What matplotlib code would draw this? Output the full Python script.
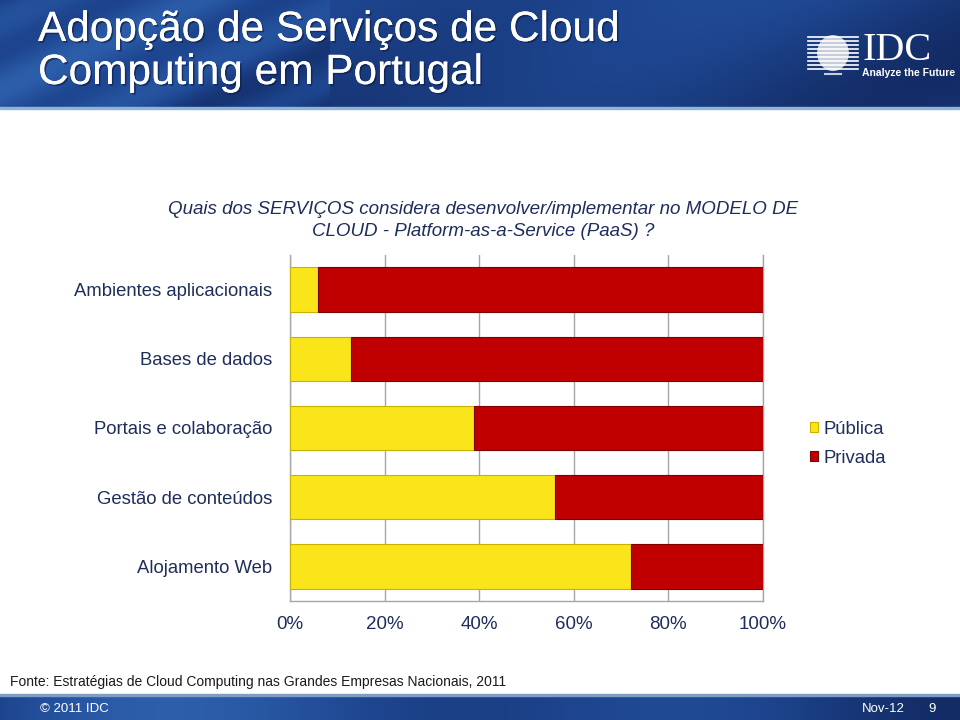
import numpy as np
import matplotlib
matplotlib.use("Agg")
import matplotlib.pyplot as plt
from matplotlib.patches import Rectangle, Circle
from matplotlib.colors import LinearSegmentedColormap
import matplotlib.patheffects as pe

plt.rcParams['font.family'] = ['Liberation Sans', 'DejaVu Sans']

# ---- data ----
categories = ["Ambientes aplicacionais", "Bases de dados", "Portais e colaboração",
              "Gestão de conteúdos", "Alojamento Web"]
publica = [6, 13, 39, 56, 72]
privada = [94, 87, 61, 44, 28]
series_names = ["Pública", "Privada"]
xticks = [0, 20, 40, 60, 80, 100]
xtick_labels = ["0%", "20%", "40%", "60%", "80%", "100%"]

title_lines = ["Adopção de Serviços de Cloud", "Computing em Portugal"]
question_lines = ["Quais dos SERVIÇOS considera desenvolver/implementar no MODELO DE",
                  "CLOUD - Platform-as-a-Service (PaaS) ?"]
source = "Fonte: Estratégias de Cloud Computing nas Grandes Empresas Nacionais, 2011"

NAVY = '#1F2D5C'
YELLOW = '#F9E51A'
YELLOW_EDGE = '#C9B200'
RED = '#C00000'
RED_EDGE = '#7E0000'

fig = plt.figure(figsize=(9.6, 7.2), dpi=100)
fig.patch.set_facecolor('white')

W, H = 960, 720

def fx(px):
    return px / W

def fy(py):
    return 1 - py / H

# ---- header band ----
hdr = fig.add_axes([0, fy(107), 1, 107 / H])
hdr.set_axis_off()
yy, xx = np.mgrid[0:107, 0:960]
base = 0.45 + 0.22 * np.sin(xx / 140.0 + yy / 60.0) * np.cos(xx / 330.0)
streak = 0.12 * np.sin((xx + 2.2 * yy) / 25.0) * (xx < 330)
grad = np.clip(base + streak, 0, 1)
cmap_hdr = LinearSegmentedColormap.from_list('hdr', ['#132C66', '#1E4690', '#2D5EAA'])
hdr.imshow(grad, cmap=cmap_hdr, aspect='auto', extent=[0, 1, 0, 1], origin='upper')
hdr.set_xlim(0, 1)
hdr.set_ylim(0, 1)
fig.add_artist(Rectangle((0, fy(109)), 1, 2 / H, transform=fig.transFigure,
                         color='#8FB4DC', zorder=3))

# title
for i, line in enumerate(title_lines):
    fig.text(fx(38), fy(30 + 43 * i), line, color='white', fontsize=30.5,
             va='center', ha='left',
             path_effects=[pe.withSimplePatchShadow(offset=(1.2, -1.2),
                                                    shadow_rgbFace='#0A1A40', alpha=0.6),
                           pe.Normal()])

# IDC logo
logo = fig.add_axes([fx(806), fy(80), fx(54), 50 / H])
logo.set_axis_off()
logo.set_xlim(-1.6, 1.6)
logo.set_ylim(-1.3, 1.3)
logo.add_patch(Circle((0, 0.1), 0.9, color='#C8CDD8', zorder=1))
for k in np.linspace(-0.75, 0.95, 9):
    logo.plot([-1.5, 1.5], [k, k], color='white', lw=1.2, zorder=2)
logo.plot([-0.5, 0.5], [-1.0, -1.0], color='#C8CDD8', lw=1.5)
fig.text(fx(862), fy(50), "IDC", family=['Liberation Serif', 'DejaVu Serif'],
         color='white', fontsize=29, va='center', ha='left')
fig.text(fx(862), fy(73), "Analyze the Future", color='white', fontsize=7.5,
         fontweight='bold', va='center', ha='left')

# ---- question ----
for i, line in enumerate(question_lines):
    fig.text(fx(483), fy(209 + 22 * i), line, color=NAVY, fontsize=13.5, style='italic',
             ha='center', va='center')

# ---- chart ----
ax = fig.add_axes([fx(290), fy(601), fx(763 - 290), (601 - 255) / H])
y = np.arange(len(categories))
ax.barh(y, publica, height=0.64, color=YELLOW, edgecolor=YELLOW_EDGE, linewidth=0.8,
        label=series_names[0], zorder=3)
ax.barh(y, privada, left=publica, height=0.64, color=RED, edgecolor=RED_EDGE,
        linewidth=0.8, label=series_names[1], zorder=3)
ax.set_xlim(0, 100)
ax.set_ylim(len(categories) - 0.5, -0.5)
ax.set_xticks(xticks)
ax.set_xticklabels(xtick_labels, fontsize=13.5, color=NAVY)
ax.set_yticks(y)
ax.set_yticklabels(categories, fontsize=13.3, color=NAVY)
ax.tick_params(axis='y', length=0, pad=13)
ax.tick_params(axis='x', length=0, pad=11)
ax.grid(axis='x', color='#A6A6A6', linewidth=1.0, zorder=0)
ax.spines['top'].set_visible(False)
for s in ['left', 'right', 'bottom']:
    ax.spines[s].set_color('#A6A6A6')
    ax.spines[s].set_linewidth(1.0)
ax.set_facecolor('white')

leg = fig.legend(handles=[ax.patches[0], ax.patches[len(categories)]],
                 labels=series_names, loc='upper left',
                 bbox_to_anchor=(fx(810), fy(421)), frameon=False, fontsize=13.3,
                 handlelength=0.45, handleheight=0.45, handletextpad=0.3,
                 labelspacing=0.65, borderpad=0, borderaxespad=0)
for t in leg.get_texts():
    t.set_color(NAVY)

# ---- source ----
fig.text(fx(10), fy(682), source, color='#1A1A1A', fontsize=10.0, ha='left', va='center')

# ---- footer bar ----
ftr = fig.add_axes([0, 0, 1, 24 / H])
ftr.set_axis_off()
yy2, xx2 = np.mgrid[0:24, 0:960]
g2 = np.clip(0.5 + 0.3 * np.sin(xx2 / 120.0) * np.cos(xx2 / 370.0), 0, 1)
ftr.imshow(g2, cmap=cmap_hdr, aspect='auto', extent=[0, 1, 0, 1], origin='upper')
ftr.set_xlim(0, 1)
ftr.set_ylim(0, 1)
fig.add_artist(Rectangle((0, 24 / H), 1, 2 / H, transform=fig.transFigure,
                         color='#7F9CC4', zorder=3))
fig.text(fx(40), fy(709), "© 2011 IDC", color='white', fontsize=9.5, ha='left', va='center')
fig.text(fx(862), fy(709), "Nov-12", color='white', fontsize=9.5, ha='left', va='center')
fig.text(fx(928), fy(709), "9", color='white', fontsize=9.5, ha='left', va='center')

fig.savefig('out.png', dpi=100, facecolor='white')
